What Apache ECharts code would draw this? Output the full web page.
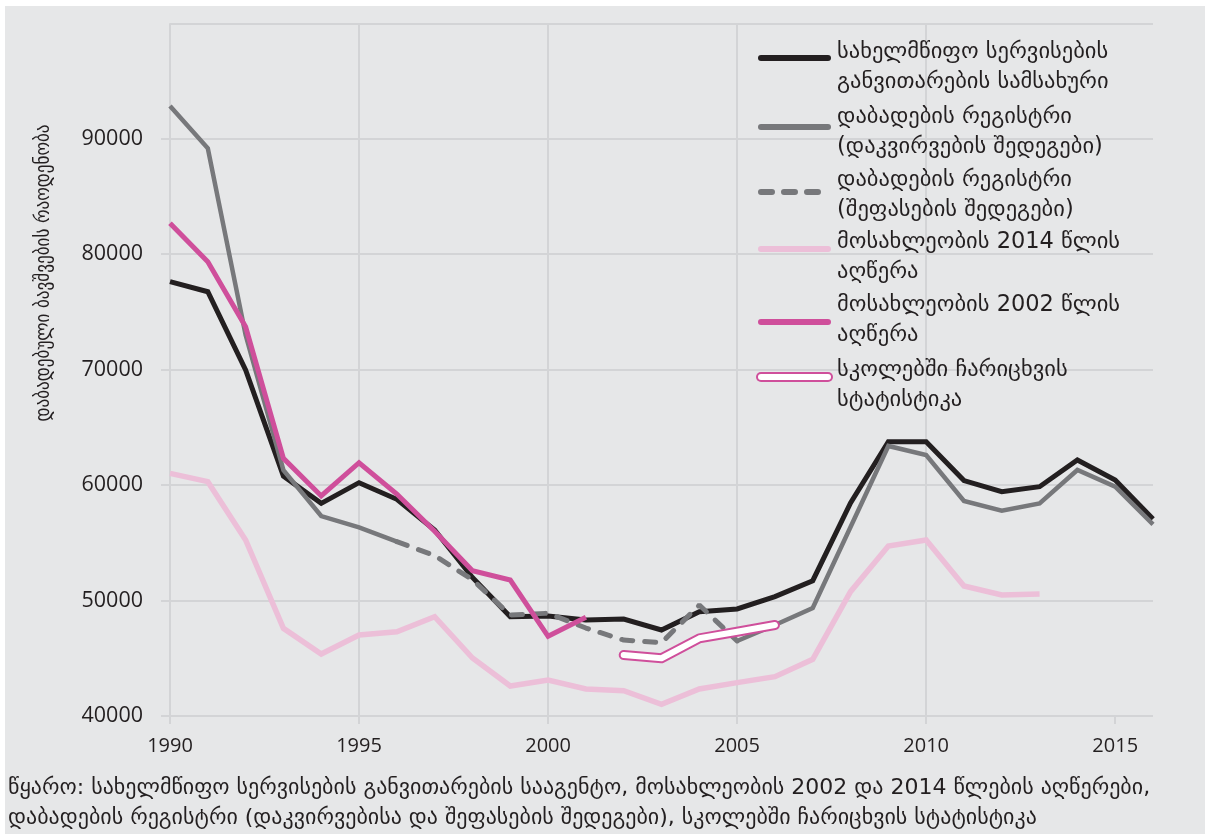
<!DOCTYPE html>
<html><head><meta charset="utf-8">
<script src="https://cdn.jsdelivr.net/npm/echarts@6/dist/echarts.min.js"></script>
<style>html,body{margin:0;padding:0;background:#fff;}#c{width:1205px;height:838px;}</style>
</head><body><div id="c"></div>
<script>
// ---- data ----
const years = [1990,1991,1992,1993,1994,1995,1996,1997,1998,1999,2000,2001,2002,2003,2004,2005,2006,2007,2008,2009,2010,2011,2012,2013,2014,2015,2016];
const agencyValues = [77620,76750,69970,60780,58420,60210,58770,56110,52000,48600,48660,48320,48400,47450,49040,49270,50340,51720,58450,63760,63760,60390,59430,59860,62180,60440,57060];
const registryObserved = [92840,89170,73000,61300,57320,56340,55100,null,null,null,null,null,null,null,null,46500,47880,49350,56370,63390,62610,58620,57790,58420,61310,59860,56600];
const registryEstimated = [null,null,null,null,null,null,55100,53900,51800,48750,48900,47620,46580,46350,49610,46500,null,null,null,null,null,null,null,null,null,null,null];
const census2014 = [61020,60300,55250,47590,45370,47020,47300,48600,45020,42600,43120,42340,42190,41010,42340,42890,43410,44910,50770,54730,55250,51260,50480,50570,null,null,null];
const census2002 = [82680,79350,73720,62320,59060,61940,59230,56000,52590,51780,46900,48550,null,null,null,null,null,null,null,null,null,null,null,null,null,null,null];
const schoolStats = [null,null,null,null,null,null,null,null,null,null,null,null,45280,45000,46730,47300,47880,null,null,null,null,null,null,null,null,null,null];
const xTicks = [1990,1995,2000,2005,2010,2015];
const yTicks = [40000,50000,60000,70000,80000,90000,100000];

const seriesNames = [
  'სახელმწიფო სერვისების\nგანვითარების სამსახური',
  'დაბადების რეგისტრი\n(დაკვირვების შედეგები)',
  'დაბადების რეგისტრი\n(შეფასების შედეგები)',
  'მოსახლეობის 2014 წლის\nაღწერა',
  'მოსახლეობის 2002 წლის\nაღწერა',
  'სკოლებში ჩარიცხვის\nსტატისტიკა'
];
const yAxisTitle = 'დაბადებული ბავშვების რაოდენობა';
const sourceText = 'წყარო: სახელმწიფო სერვისების განვითარების სააგენტო, მოსახლეობის 2002 და 2014 წლების აღწერები,\nდაბადების რეგისტრი (დაკვირვებისა და შეფასების შედეგები), სკოლებში ჩარიცხვის სტატისტიკა';

// ---- styles ----
const BLACK = '#231f20', GRAY = '#77787b', LPINK = '#ecbfd8', PINK = '#cf4f9b';
const GRID = '#d3d4d6', BG = '#e6e7e8';
const GEO = "'DejaVu Sans', sans-serif";
const NUM = "'Open Sans', 'DejaVu Sans', sans-serif";

function pairs(arr){ return years.map((y,i)=>[y, arr[i]==null ? '-' : arr[i]]); }
function line(name, arr, color, width, extra){
  return Object.assign({
    name, type:'line', data: pairs(arr), showSymbol:false, symbol:'none',
    connectNulls:false, silent:true, animation:false,
    lineStyle:{color, width, join:'miter', cap:'butt'}
  }, extra||{});
}

const series = [
  line(seriesNames[3], census2014, LPINK, 5.5),
  line(seriesNames[0], agencyValues, BLACK, 5),
  line(seriesNames[1], registryObserved, GRAY, 4.5),
  line(seriesNames[2], registryEstimated, GRAY, 5, {lineStyle:{color:GRAY, width:5, type:[11,12], cap:'round'}}),
  line(seriesNames[4], census2002, PINK, 5),
  line(seriesNames[5], schoolStats, PINK, 10, {lineStyle:{color:PINK, width:10, cap:'round', join:'round'}}),
  line(seriesNames[5]+' ', schoolStats, '#ffffff', 6, {lineStyle:{color:'#ffffff', width:6, cap:'round', join:'round'}})
];

// ---- legend (graphic) ----
const legendRows = [
  {lineY:58, textY:52, kind:'solid', color:BLACK},
  {lineY:127, textY:117, kind:'solid', color:GRAY},
  {lineY:192, textY:180, kind:'dash', color:GRAY},
  {lineY:249, textY:242, kind:'solid', color:LPINK},
  {lineY:322, textY:305, kind:'solid', color:PINK},
  {lineY:377, textY:370, kind:'hollow', color:PINK}
];
const graphics = [
  {type:'rect', z:-100, shape:{x:5,y:6,width:1200,height:828}, style:{fill:BG}, silent:true}
];
legendRows.forEach((r,i)=>{
  if (r.kind==='hollow'){
    graphics.push({type:'line', shape:{x1:761,y1:r.lineY,x2:828,y2:r.lineY}, style:{stroke:PINK,lineWidth:10,lineCap:'round'}, z:10});
    graphics.push({type:'line', shape:{x1:761,y1:r.lineY,x2:828,y2:r.lineY}, style:{stroke:'#fff',lineWidth:6,lineCap:'round'}, z:11});
  } else if (r.kind==='dash'){
    graphics.push({type:'line', shape:{x1:761,y1:r.lineY,x2:828,y2:r.lineY}, style:{stroke:r.color,lineWidth:6,lineCap:'round',lineDash:[11,12]}, z:10});
  } else {
    graphics.push({type:'line', shape:{x1:761,y1:r.lineY,x2:828,y2:r.lineY}, style:{stroke:r.color,lineWidth:6,lineCap:'round'}, z:10});
  }
  graphics.push({type:'text', x:837, y:r.textY-15, z:10, style:{text:seriesNames[i], font:'22.5px '+GEO, fill:BLACK, lineHeight:30, align:'left', verticalAlign:'top'}});
});
graphics.push({type:'text', x:44, y:273, rotation:Math.PI/2, scaleX:0.88, style:{text:yAxisTitle, font:'19.5px '+GEO, fill:BLACK, align:'center', verticalAlign:'middle'}});
graphics.push({type:'text', x:8, y:773, style:{text:sourceText, font:'22px '+GEO, fill:BLACK, lineHeight:30, align:'left', verticalAlign:'top'}});

const chart = echarts.init(document.getElementById('c'), null, {renderer:'canvas'});
chart.setOption({
  animation:false,
  backgroundColor:'#ffffff',
  grid:{left:170, right:52, top:23.3, bottom:122, containLabel:false},
  xAxis:{
    type:'value', min:1990, max:2016, interval:5,
    axisLine:{show:false},
    axisTick:{show:true, length:8, lineStyle:{color:GRID, width:2}, customValues:xTicks},
    axisLabel:{color:BLACK, fontSize:20, fontFamily:NUM, margin:20, customValues:xTicks, formatter:v=>String(v)},
    splitLine:{show:true, showMaxLine:false, lineStyle:{color:GRID, width:2}}
  },
  yAxis:{
    type:'value', min:yTicks[0], max:yTicks[yTicks.length-1], interval:10000,
    axisLine:{show:false},
    axisTick:{show:true, length:9, lineStyle:{color:GRID, width:2}},
    axisLabel:{color:BLACK, fontSize:21.5, fontFamily:NUM, margin:27, showMaxLabel:false, formatter:v=>String(v)},
    splitLine:{show:true, lineStyle:{color:GRID, width:2}}
  },
  graphic: graphics,
  series
});
</script></body></html>
